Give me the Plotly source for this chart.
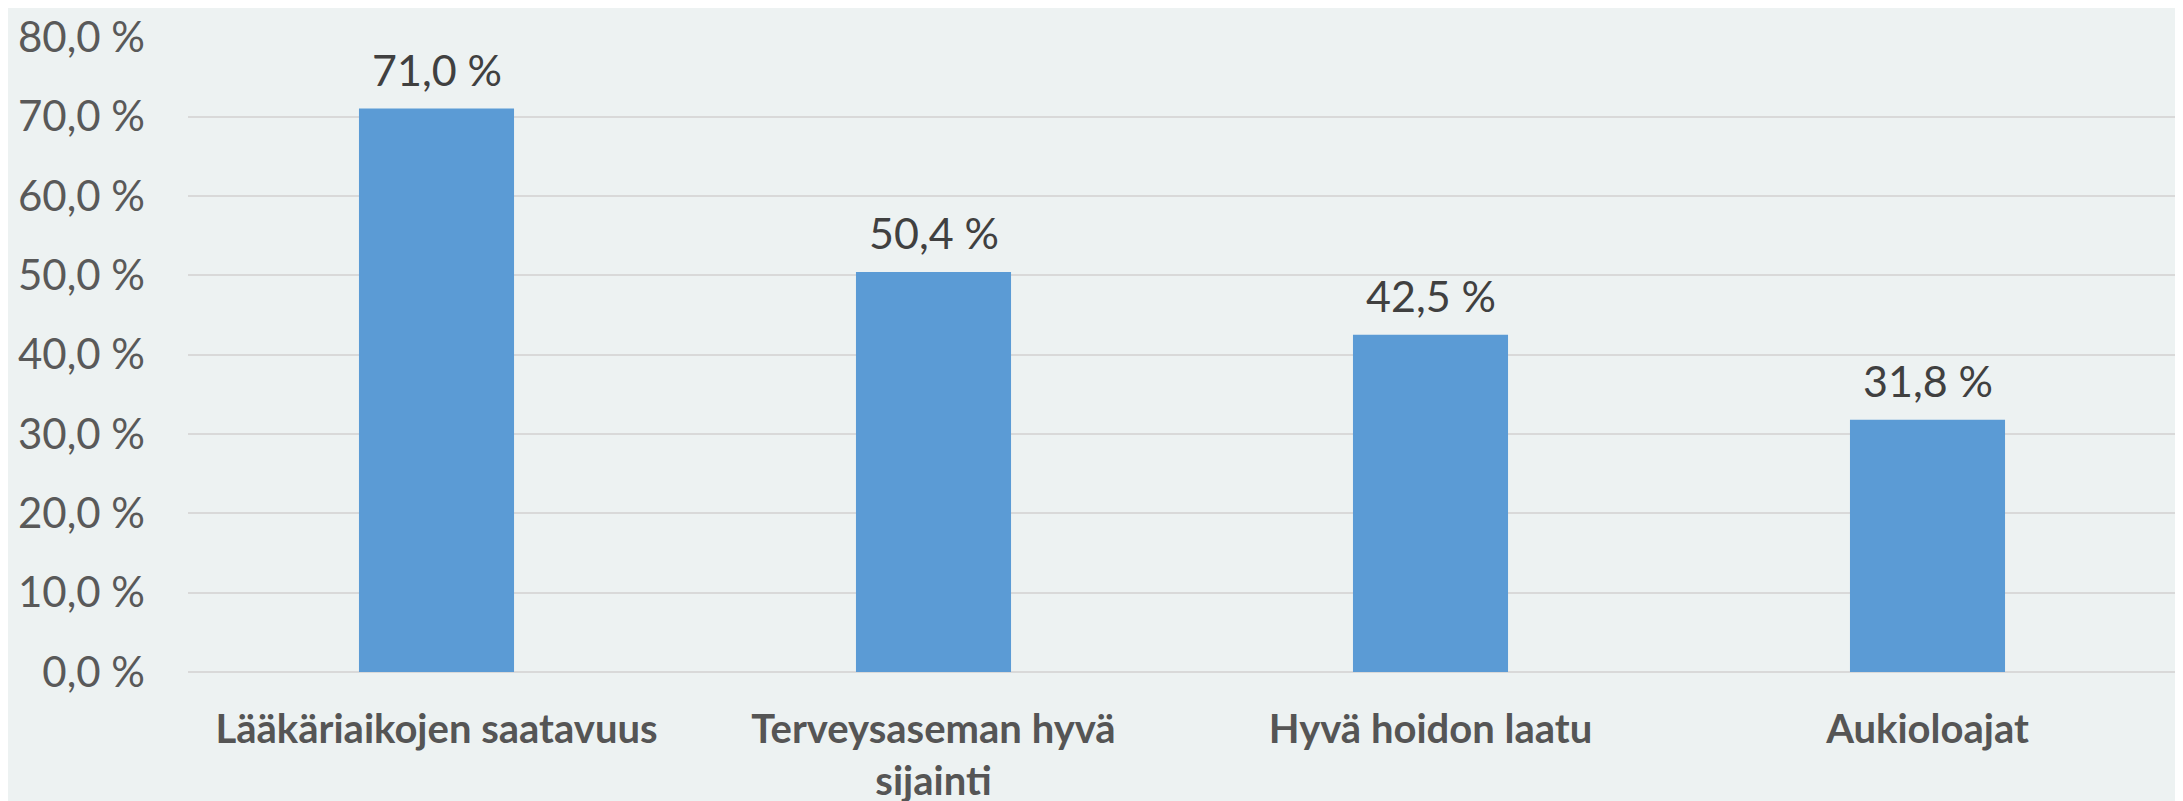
import plotly.graph_objects as go

categories = ["Lääkäriaikojen saatavuus", "Terveysaseman hyvä<br>sijainti", "Hyvä hoidon laatu", "Aukioloajat"]
values = [71.0, 50.4, 42.5, 31.8]
value_labels = ["71,0 %", "50,4 %", "42,5 %", "31,8 %"]
y_ticks = [0, 10, 20, 30, 40, 50, 60, 70, 80]
y_tick_text = [f"{v:.1f}".replace(".", ",") + " %" for v in y_ticks]

bg = "#EDF2F2"
font_family = "Lato, 'Open Sans', sans-serif"

fig = go.Figure()
fig.add_trace(go.Bar(
    x=categories,
    y=values,
    marker=dict(color="#5B9BD5", line=dict(width=0)),
    width=0.312,
))

for c, v, t in zip(categories, values, value_labels):
    fig.add_annotation(x=c, y=v, text=t, showarrow=False, yanchor="bottom",
                       yshift=12, font=dict(size=43, color="#404040", family=font_family))

fig.update_layout(
    width=2183, height=801,
    paper_bgcolor=bg, plot_bgcolor=bg,
    margin=dict(l=180, r=15, t=29, b=137, autoexpand=False),
    showlegend=False,
    bargap=0.69,
    font=dict(family=font_family, color="#595959"),
)
fig.update_yaxes(
    range=[0, 80.02], tickvals=y_ticks, ticktext=y_tick_text, automargin=False,
    ticklabeloverflow="allow",
    showgrid=True, gridcolor="#D9D9D9", gridwidth=2,
    zeroline=True, zerolinecolor="#D9D9D9", zerolinewidth=2,
    showline=False, ticks="", ticklabelstandoff=42,
    tickfont=dict(size=42, color="#595959", family=font_family),
)
fig.update_xaxes(
    showgrid=False, showline=False, ticks="", ticklabelstandoff=30, automargin=False,
    tickfont=dict(size=40, color="#555555", family=font_family, weight="bold"),
)

fig.write_html("out.html")
